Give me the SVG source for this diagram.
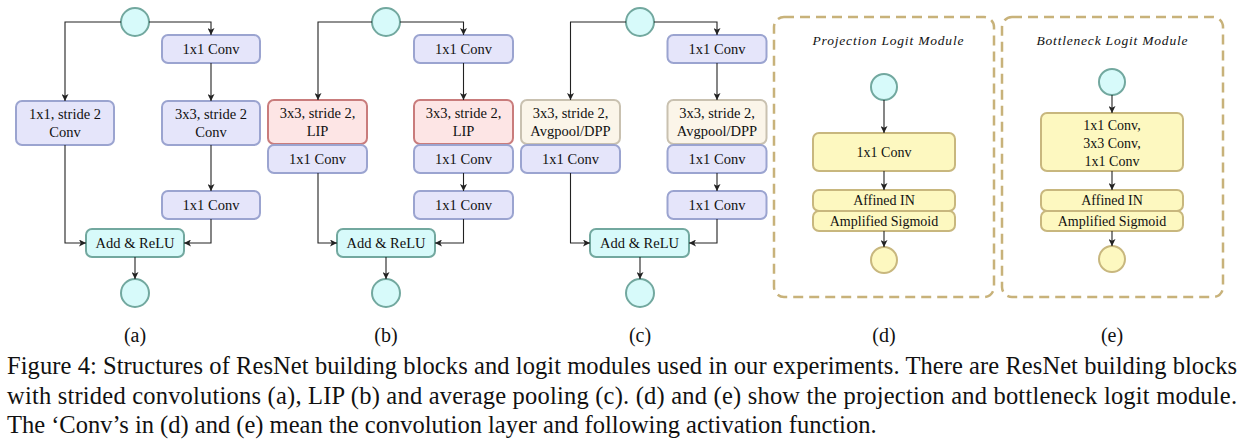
<svg xmlns="http://www.w3.org/2000/svg" width="1245" height="441" viewBox="0 0 1245 441">
<defs>
<marker id="ah" viewBox="0 0 10 10" refX="10" refY="5" markerWidth="7" markerHeight="7" markerUnits="userSpaceOnUse" orient="auto">
<path d="M0,0 L10,5 L0,10 L2.5,5 z" fill="#222"/>
</marker>
<style>
.t{font-family:"Liberation Serif","Times New Roman",serif;font-size:14.5px;fill:#111;text-anchor:middle;dominant-baseline:central}
.ty{font-family:"Liberation Serif","Times New Roman",serif;font-size:14px;fill:#111;text-anchor:middle;dominant-baseline:central}
.ti{font-family:"Liberation Serif","Times New Roman",serif;font-size:13.5px;font-style:italic;fill:#111;text-anchor:middle}
.lab{font-family:"Liberation Serif","Times New Roman",serif;font-size:20px;fill:#111;text-anchor:middle}
.cap{font-family:"Liberation Serif","Times New Roman",serif;font-size:24.5px;fill:#111}
.cy{fill:#d7fafa;stroke:#72a89f;stroke-width:2}
.bl{fill:#e5e5fa;stroke:#9ba4d0;stroke-width:2}
.rd{fill:#fde5e5;stroke:#c97c7c;stroke-width:2}
.bg{fill:#fbf5e9;stroke:#c9c1b0;stroke-width:2}
.ye{fill:#fdf8c0;stroke:#c8b77e;stroke-width:2}
.dash{fill:none;stroke:#c8b27a;stroke-width:2.5;stroke-dasharray:10 6}
.c{fill:none;stroke:#222;stroke-width:1.1;marker-end:url(#ah)}
</style>
</defs>

<!-- Panel (a) -->
<g id="a-in"><circle class="cy" cx="135" cy="22" r="14"/></g>
<g id="a-conv1"><rect class="bl" x="162" y="35" width="98" height="28" rx="6"/><text class="t" x="211" y="49">1x1 Conv</text></g>
<g id="a-conv3"><rect class="bl" x="162" y="101" width="98" height="44" rx="6"/><text class="t" x="211" y="114">3x3, stride 2</text><text class="t" x="211" y="132">Conv</text></g>
<g id="a-short"><rect class="bl" x="16" y="101" width="98" height="44" rx="6"/><text class="t" x="65" y="114">1x1, stride 2</text><text class="t" x="65" y="132">Conv</text></g>
<g id="a-conv1b"><rect class="bl" x="162" y="191" width="98" height="28" rx="6"/><text class="t" x="211" y="205">1x1 Conv</text></g>
<g id="a-add"><rect class="cy" x="86" y="229" width="98" height="28" rx="6"/><text class="t" x="135" y="243">Add &amp; ReLU</text></g>
<g id="a-out"><circle class="cy" cx="135" cy="293" r="14"/></g>

<!-- Panel (b) -->
<g id="b-in"><circle class="cy" cx="386" cy="22" r="14"/></g>
<g id="b-conv1"><rect class="bl" x="414" y="35" width="99" height="28" rx="6"/><text class="t" x="463.5" y="49">1x1 Conv</text></g>
<g id="b-lipl"><rect class="rd" x="268" y="100" width="99" height="44" rx="6"/><text class="t" x="317.5" y="113">3x3, stride 2,</text><text class="t" x="317.5" y="131">LIP</text></g>
<g id="b-convl"><rect class="bl" x="268" y="145" width="99" height="28" rx="6"/><text class="t" x="317.5" y="159">1x1 Conv</text></g>
<g id="b-lipr"><rect class="rd" x="414" y="100" width="99" height="44" rx="6"/><text class="t" x="463.5" y="113">3x3, stride 2,</text><text class="t" x="463.5" y="131">LIP</text></g>
<g id="b-convr"><rect class="bl" x="414" y="145" width="99" height="28" rx="6"/><text class="t" x="463.5" y="159">1x1 Conv</text></g>
<g id="b-conv1b"><rect class="bl" x="414" y="191" width="99" height="28" rx="6"/><text class="t" x="463.5" y="205">1x1 Conv</text></g>
<g id="b-add"><rect class="cy" x="337" y="229" width="98" height="28" rx="6"/><text class="t" x="386" y="243">Add &amp; ReLU</text></g>
<g id="b-out"><circle class="cy" cx="386" cy="293" r="14"/></g>

<!-- Panel (c) -->
<g id="c-in"><circle class="cy" cx="640" cy="22" r="14"/></g>
<g id="c-conv1"><rect class="bl" x="667.5" y="35" width="99" height="28" rx="6"/><text class="t" x="717" y="49">1x1 Conv</text></g>
<g id="c-avgl"><rect class="bg" x="521" y="100" width="99" height="44" rx="6"/><text class="t" x="570.5" y="113">3x3, stride 2,</text><text class="t" x="570.5" y="131">Avgpool/DPP</text></g>
<g id="c-convl"><rect class="bl" x="521" y="145" width="99" height="28" rx="6"/><text class="t" x="570.5" y="159">1x1 Conv</text></g>
<g id="c-avgr"><rect class="bg" x="667.5" y="100" width="99" height="44" rx="6"/><text class="t" x="717" y="113">3x3, stride 2,</text><text class="t" x="717" y="131">Avgpool/DPP</text></g>
<g id="c-convr"><rect class="bl" x="667.5" y="145" width="99" height="28" rx="6"/><text class="t" x="717" y="159">1x1 Conv</text></g>
<g id="c-conv1b"><rect class="bl" x="667.5" y="191" width="99" height="28" rx="6"/><text class="t" x="717" y="205">1x1 Conv</text></g>
<g id="c-add"><rect class="cy" x="590" y="229" width="99" height="28" rx="6"/><text class="t" x="639.5" y="243">Add &amp; ReLU</text></g>
<g id="c-out"><circle class="cy" cx="640" cy="293" r="14"/></g>

<!-- Panel (d) -->
<g id="d-frame"><rect class="dash" x="774" y="17" width="220" height="280" rx="10"/><text class="ti" x="888" y="45" textLength="151" lengthAdjust="spacing">Projection Logit Module</text></g>
<g id="d-in"><circle class="cy" cx="884" cy="87" r="13"/></g>
<g id="d-conv"><rect class="ye" x="813" y="133" width="142" height="38" rx="6"/><text class="ty" x="884" y="152">1x1 Conv</text></g>
<g id="d-in2"><rect class="ye" x="813" y="190" width="142" height="21" rx="6"/><text class="ty" x="884" y="200.5">Affined IN</text></g>
<g id="d-sig"><rect class="ye" x="813" y="211" width="142" height="20" rx="6"/><text class="ty" x="884" y="221">Amplified Sigmoid</text></g>
<g id="d-out"><circle class="ye" cx="884" cy="260" r="13"/></g>

<!-- Panel (e) -->
<g id="e-frame"><rect class="dash" x="1002" y="17" width="221" height="280" rx="10"/><text class="ti" x="1112" y="45" textLength="151" lengthAdjust="spacing">Bottleneck Logit Module</text></g>
<g id="e-in"><circle class="cy" cx="1112" cy="82" r="13"/></g>
<g id="e-conv"><rect class="ye" x="1041" y="113" width="142" height="58" rx="6"/><text class="ty" x="1112" y="125">1x1 Conv,</text><text class="ty" x="1112" y="143">3x3 Conv,</text><text class="ty" x="1112" y="161">1x1 Conv</text></g>
<g id="e-in2"><rect class="ye" x="1041" y="190" width="142" height="21" rx="6"/><text class="ty" x="1112" y="200.5">Affined IN</text></g>
<g id="e-sig"><rect class="ye" x="1041" y="211" width="142" height="20" rx="6"/><text class="ty" x="1112" y="221">Amplified Sigmoid</text></g>
<g id="e-out"><circle class="ye" cx="1112" cy="259" r="13"/></g>

<!-- Connectors -->
<g id="connectors">
<path class="c" d="M121,22 H65 V101"/>
<path class="c" d="M149,22 H211 V35"/>
<path class="c" d="M211,63 V101"/>
<path class="c" d="M211,145 V191"/>
<path class="c" d="M65,145 V243 H86"/>
<path class="c" d="M211,219 V243 H184"/>
<path class="c" d="M135,257 V279"/>

<path class="c" d="M372,22 H318 V100"/>
<path class="c" d="M400,22 H463.5 V35"/>
<path class="c" d="M463.5,63 V100"/>
<path class="c" d="M463.5,173 V191"/>
<path class="c" d="M318,173 V243 H337"/>
<path class="c" d="M463.5,219 V243 H435"/>
<path class="c" d="M386,257 V279"/>

<path class="c" d="M626,22 H570.5 V100"/>
<path class="c" d="M654,22 H717 V35"/>
<path class="c" d="M717,63 V100"/>
<path class="c" d="M717,173 V191"/>
<path class="c" d="M570.5,173 V243 H590"/>
<path class="c" d="M717,219 V243 H689"/>
<path class="c" d="M640,257 V279"/>

<path class="c" d="M884,100 V133"/>
<path class="c" d="M884,171 V190"/>
<path class="c" d="M884,231 V247"/>

<path class="c" d="M1112,95 V113"/>
<path class="c" d="M1112,171 V190"/>
<path class="c" d="M1112,231 V246"/>
</g>

<!-- Sub-labels -->
<text class="lab" x="135" y="342">(a)</text>
<text class="lab" x="386" y="342">(b)</text>
<text class="lab" x="640" y="342">(c)</text>
<text class="lab" x="884" y="342">(d)</text>
<text class="lab" x="1112" y="342">(e)</text>

<!-- Caption -->
<text class="cap" x="7" y="374" textLength="1230" lengthAdjust="spacing">Figure 4: Structures of ResNet building blocks and logit modules used in our experiments. There are ResNet building blocks</text>
<text class="cap" x="7" y="404" textLength="1230" lengthAdjust="spacing">with strided convolutions (a), LIP (b) and average pooling (c). (d) and (e) show the projection and bottleneck logit module.</text>
<text class="cap" x="7" y="433">The ‘Conv’s in (d) and (e) mean the convolution layer and following activation function.</text>
</svg>
